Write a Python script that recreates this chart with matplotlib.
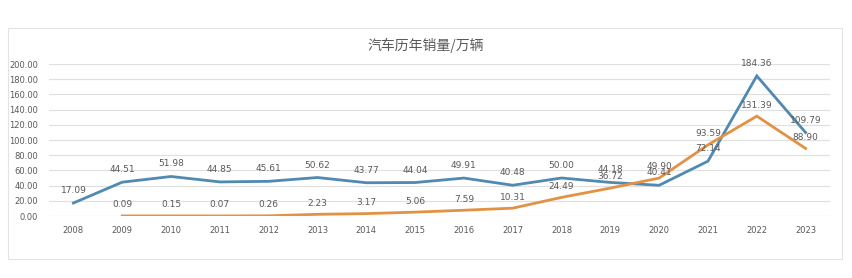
import matplotlib.pyplot as plt
from matplotlib.patches import Rectangle

# ------------------------------------------------------------------------------
# Datos (万辆)
# ------------------------------------------------------------------------------
years = ['2008', '2009', '2010', '2011', '2012', '2013', '2014', '2015',
         '2016', '2017', '2018', '2019', '2020', '2021', '2022', '2023']
total = [17.09, 44.51, 51.98, 44.85, 45.61, 50.62, 43.77, 44.04,
         49.91, 40.48, 50.00, 44.18, 40.41, 72.14, 184.36, 109.79]
nev_years = years[1:]
nev = [0.09, 0.15, 0.07, 0.26, 2.23, 3.17, 5.06, 7.59,
       10.31, 24.49, 36.72, 49.90, 93.59, 131.39, 88.90]
yticks = [0, 20, 40, 60, 80, 100, 120, 140, 160, 180, 200]

plt.rcParams['font.family'] = ['Liberation Sans Narrow', 'DejaVu Sans']
blue = '#5089b2'
orange = '#e39143'
txt = '#595959'

fig = plt.figure(figsize=(8.52, 2.78), dpi=100)
fig.patch.set_facecolor('white')

# marco del gráfico
fig.patches.append(Rectangle((8 / 852, 1 - 259 / 278), 834 / 852, 231 / 278,
                             transform=fig.transFigure, fill=False,
                             edgecolor='#e3e3e3', lw=0.8))

ax = fig.add_axes([49 / 852, 1 - 216 / 278, 781 / 852, 152 / 278])
x_all = list(range(len(years)))
x_nev = [years.index(y) for y in nev_years]

ax.plot(x_all, total, color=blue, lw=2.0, solid_joinstyle='miter')
ax.plot(x_nev, nev, color=orange, lw=2.0, solid_joinstyle='miter')

for xi, v in zip(x_all, total):
    ax.annotate(f'{v:.2f}', (xi, v), xytext=(0, 9), textcoords='offset points',
                ha='center', va='center', fontsize=6.5, color=txt)
for xi, v in zip(x_nev, nev):
    ax.annotate(f'{v:.2f}', (xi, v), xytext=(0, 8), textcoords='offset points',
                ha='center', va='center', fontsize=6.5, color=txt)

ax.set_xlim(-0.5, len(years) - 0.5)
ax.set_ylim(0, 200)
ax.set_yticks(yticks)
ax.set_yticklabels([f'{t:.2f}' for t in yticks])
ax.set_xticks(x_all)
ax.set_xticklabels(years)
ax.grid(axis='y', color='#e0e0e0', lw=0.9)
ax.set_axisbelow(True)
for s in ax.spines.values():
    s.set_visible(False)
ax.tick_params(length=0, labelsize=6, labelcolor=txt)
ax.tick_params(axis='y', pad=8)
ax.tick_params(axis='x', pad=7)

fig.text(0.5, 1 - 45 / 278, '汽车历年销量/万辆', ha='center', va='center',
         fontsize=10, color=txt, family=['Noto Sans CJK SC', 'DejaVu Sans'])

fig.savefig('out.png', dpi=100)
